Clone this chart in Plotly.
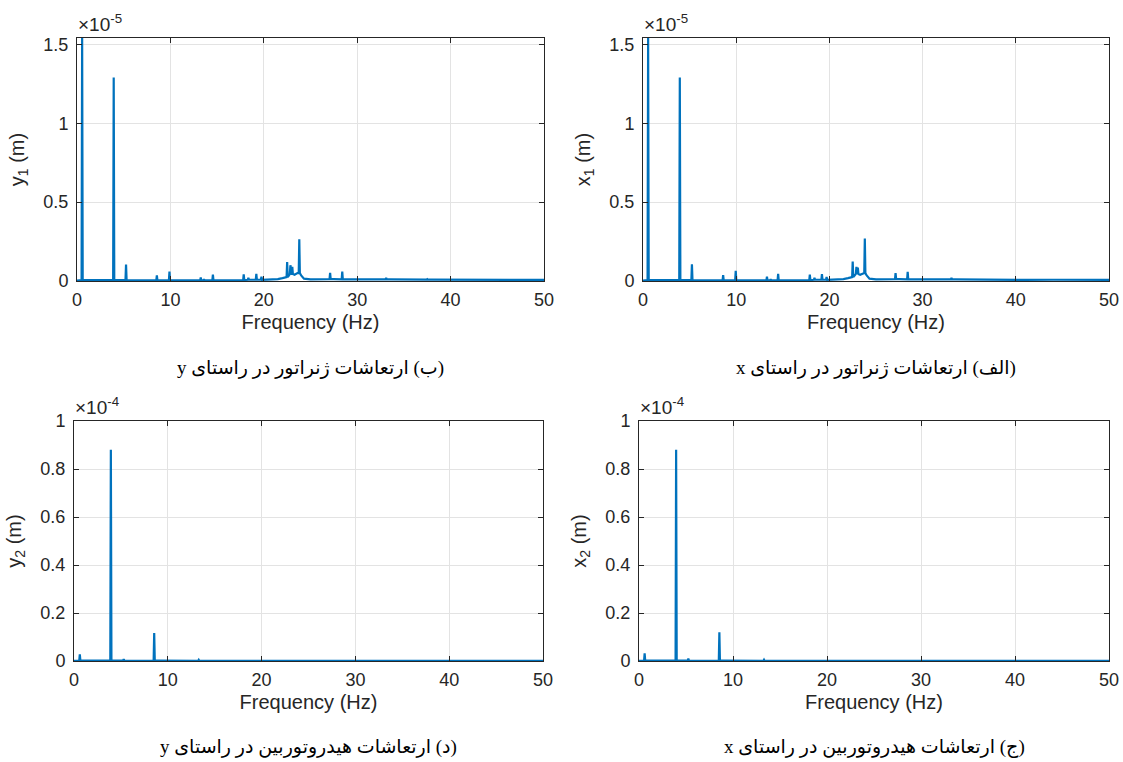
import plotly.graph_objects as go

# ---------------- data ----------------
# Generator, y direction (top-left), amplitudes in units of 1e-5 m
peak_f_y1 = [0.55, 3.93, 5.25, 8.55, 9.9, 13.25, 13.6, 14.55, 17.85, 18.35, 19.2, 19.75,
             22.5, 22.85, 23.05, 23.8, 27.1, 28.4, 33.1, 37.5]
peak_a_y1 = [1.54, 1.29, 0.105, 0.035, 0.06, 0.022, 0.012, 0.04, 0.042, 0.02, 0.045, 0.028,
             0.12, 0.1, 0.09, 0.265, 0.052, 0.06, 0.02, 0.012]
floor_f_1 = [0, 1, 2, 3, 5, 7, 9, 11, 13, 15, 17, 19, 20.5, 21.5, 22, 22.3, 22.7, 23.0,
             23.3, 23.6, 24.0, 24.3, 25, 26, 27.5, 29, 31, 33.5, 36, 38, 41, 44, 47, 50]
floor_a_y1 = [0.003, 0.005, 0.004, 0.006, 0.005, 0.004, 0.004, 0.004, 0.004, 0.004, 0.006,
              0.008, 0.008, 0.012, 0.018, 0.025, 0.035, 0.045, 0.04, 0.05, 0.035, 0.015,
              0.01, 0.01, 0.012, 0.01, 0.008, 0.01, 0.008, 0.009, 0.007, 0.008, 0.007, 0.007]

# Generator, x direction (top-right), units of 1e-5 m
peak_f_x1 = [0.55, 3.95, 5.25, 8.6, 9.95, 13.3, 13.7, 14.5, 17.9, 18.4, 19.2, 19.7,
             22.5, 22.9, 23.05, 23.8, 27.1, 28.4, 33.1, 37.5]
peak_a_x1 = [1.54, 1.29, 0.106, 0.038, 0.064, 0.028, 0.012, 0.045, 0.04, 0.02, 0.043, 0.025,
             0.123, 0.09, 0.085, 0.27, 0.05, 0.058, 0.02, 0.01]
floor_a_x1 = [0.003, 0.005, 0.004, 0.006, 0.005, 0.004, 0.004, 0.004, 0.004, 0.004, 0.006,
              0.008, 0.008, 0.012, 0.018, 0.025, 0.035, 0.045, 0.04, 0.05, 0.035, 0.015,
              0.01, 0.01, 0.012, 0.01, 0.008, 0.01, 0.008, 0.009, 0.007, 0.008, 0.007, 0.007]

# Hydro-turbine, y direction (bottom-left), units of 1e-4 m
peak_f_y2 = [0.62, 3.93, 5.3, 8.55, 9.9, 13.3]
peak_a_y2 = [0.028, 0.88, 0.008, 0.117, 0.004, 0.005]
# Hydro-turbine, x direction (bottom-right), units of 1e-4 m
peak_f_x2 = [0.6, 3.95, 5.25, 8.55, 9.95, 13.3]
peak_a_x2 = [0.032, 0.88, 0.01, 0.12, 0.004, 0.005]
floor_f_2 = [0, 1, 2, 3, 5, 7, 9, 12, 15, 20, 25, 30, 35, 40, 45, 50]
floor_a_2 = [0.001, 0.002, 0.001, 0.002, 0.002, 0.001, 0.002, 0.001, 0.001, 0.001,
             0.001, 0.001, 0.001, 0.001, 0.001, 0.001]

x_ticks = [0, 10, 20, 30, 40, 50]
y_ticks_top = [0, 0.5, 1, 1.5]
y_ticks_bot = [0, 0.2, 0.4, 0.6, 0.8, 1]

captions = ["(ب) ارتعاشات ژنراتور در راستای y",
            "(الف) ارتعاشات ژنراتور در راستای x",
            "(د) ارتعاشات هیدروتوربین در راستای y",
            "(ج) ارتعاشات هیدروتوربین در راستای x"]
y_titles = ["y<sub>1</sub> (m)", "x<sub>1</sub> (m)", "y<sub>2</sub> (m)", "x<sub>2</sub> (m)"]
exponents = ["×10<sup>-5</sup>", "×10<sup>-5</sup>", "×10<sup>-4</sup>", "×10<sup>-4</sup>"]

# ---------------- build spectrum lines ----------------
HALF = 0.06


def spectrum(pf, pa, ff, fa):
    pts = list(zip(ff, fa))
    for f, a in zip(pf, pa):
        j = min(range(len(ff)), key=lambda k: abs(ff[k] - f))
        base = fa[j]
        pts += [(f - HALF, base), (f, a), (f + HALF, base)]
    pts.sort(key=lambda p: p[0])
    return [p[0] for p in pts], [p[1] for p in pts]


series = [
    spectrum(peak_f_y1, peak_a_y1, floor_f_1, floor_a_y1),
    spectrum(peak_f_x1, peak_a_x1, floor_f_1, floor_a_x1),
    spectrum(peak_f_y2, peak_a_y2, floor_f_2, floor_a_2),
    spectrum(peak_f_x2, peak_a_x2, floor_f_2, floor_a_2),
]

W, H = 1123, 762
# plot boxes in pixels: (left, right, top, bottom)
boxes = [(77, 544, 38, 281), (643, 1109, 38, 281), (74, 543, 421, 661), (639, 1109, 421, 661)]
y_ranges = [[0, 1.54], [0, 1.54], [0, 1.0], [0, 1.0]]
y_tick_sets = [y_ticks_top, y_ticks_top, y_ticks_bot, y_ticks_bot]

BLUE = "#0072BD"
AX = "#262626"
FONT = "Liberation Sans, Arial, Helvetica, sans-serif"
TICK = 18
LAB = 20

fig = go.Figure()
layout = dict(
    width=W, height=H, margin=dict(l=0, r=0, t=0, b=0, autoexpand=False),
    paper_bgcolor="white", plot_bgcolor="white", showlegend=False,
    font=dict(family=FONT, size=TICK, color=AX),
)
annotations = []
for i, ((xs, ys), (l, r, t, b)) in enumerate(zip(series, boxes)):
    n = "" if i == 0 else str(i + 1)
    fig.add_trace(go.Scatter(x=xs, y=ys, mode="lines", line=dict(color=BLUE, width=2.2),
                             xaxis="x" + n, yaxis="y" + n, hoverinfo="skip"))
    common = dict(showline=True, linecolor=AX, linewidth=1, mirror="ticks",
                  ticks="inside", ticklen=5, tickcolor=AX, automargin=False,
                  showgrid=True, gridcolor="#e3e3e3", gridwidth=1, zeroline=False,
                  tickfont=dict(family=FONT, size=TICK, color=AX))
    layout["xaxis" + n] = dict(common, domain=[l / W, r / W], anchor="y" + n,
                               range=[0, 50], tickvals=x_ticks, ticklabelstandoff=2,
                               title=dict(text="Frequency (Hz)", standoff=6,
                                          font=dict(family=FONT, size=LAB, color=AX)))
    layout["yaxis" + n] = dict(common, domain=[1 - b / H, 1 - t / H], anchor="x" + n,
                               range=y_ranges[i], tickvals=y_tick_sets[i], ticklabelstandoff=4,
                               title=dict(text=y_titles[i], standoff=13,
                                          font=dict(family=FONT, size=LAB, color=AX)))
    annotations.append(dict(text=exponents[i], xref="paper", yref="paper",
                            x=(l - 1) / W, y=1 - (t - 1) / H, xanchor="left", yanchor="bottom",
                            showarrow=False, font=dict(family=FONT, size=19, color=AX)))
    cap_y = 368 if i < 2 else 747
    annotations.append(dict(text="\u202B" + captions[i] + "\u202C", xref="paper", yref="paper",
                            x=(l + r) / 2 / W, y=1 - cap_y / H, xanchor="center", yanchor="middle",
                            showarrow=False,
                            font=dict(family="Liberation Serif, DejaVu Sans, serif", size=19,
                                      color="black")))
layout["annotations"] = annotations
fig.update_layout(**layout)
fig.write_html("out.html")
